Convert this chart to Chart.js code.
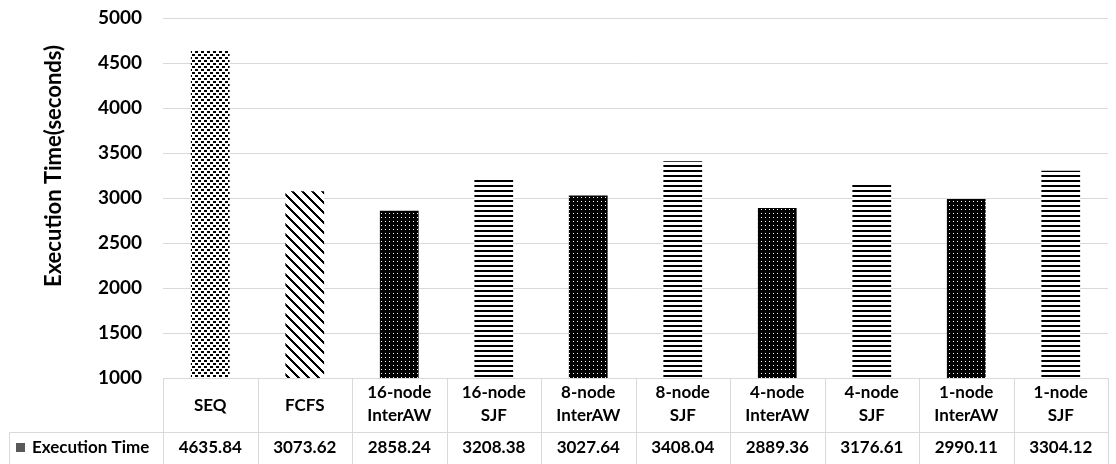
<!DOCTYPE html>
<html>
<head>
<meta charset="utf-8">
<script src="https://cdn.jsdelivr.net/npm/chart.js@4.4.1/dist/chart.umd.min.js"></script>
<style>
  html, body { margin: 0; padding: 0; background: #fff; }
  #wrap { width: 1116px; height: 464px; }
</style>
</head>
<body>
<div id="wrap"><canvas id="execChart" width="1116" height="464"></canvas></div>
<script>
// chart data
const categories = [
  ['SEQ'], ['FCFS'],
  ['16-node', 'InterAW'], ['16-node', 'SJF'],
  ['8-node', 'InterAW'], ['8-node', 'SJF'],
  ['4-node', 'InterAW'], ['4-node', 'SJF'],
  ['1-node', 'InterAW'], ['1-node', 'SJF']
];
const execTimes = [4635.84, 3073.62, 2858.24, 3208.38, 3027.64, 3408.04, 2889.36, 3176.61, 2990.11, 3304.12];
const valueLabels = ['4635.84', '3073.62', '2858.24', '3208.38', '3027.64', '3408.04', '2889.36', '3176.61', '2990.11', '3304.12'];
const seriesName = 'Execution Time';
const yTitle = 'Execution Time(seconds)';
const yMin = 1000, yMax = 5000, yStep = 500;
// which fill each bar uses
const barFills = ['sparseDots', 'diagonal', 'darkDots', 'hLines', 'darkDots', 'hLines', 'darkDots', 'hLines', 'darkDots', 'hLines'];

const FONT = 'Lato, "Open Sans", sans-serif';

// little pixel tiles for the excel-like pattern fills
function makeTile(w, h, isBlack) {
  const c = document.createElement('canvas');
  c.width = w; c.height = h;
  const cx = c.getContext('2d');
  const img = cx.createImageData(w, h);
  for (let y = 0; y < h; y++) {
    for (let x = 0; x < w; x++) {
      const v = isBlack(x, y) ? 0 : 255;
      const i = (y * w + x) * 4;
      img.data[i] = v; img.data[i + 1] = v; img.data[i + 2] = v; img.data[i + 3] = 255;
    }
  }
  cx.putImageData(img, 0, 0);
  return c;
}

const canvas = document.getElementById('execChart');
const ctx = canvas.getContext('2d');

const patterns = {
  sparseDots: ctx.createPattern(makeTile(6, 6, (x, y) =>
    (x < 3 && y < 2) || (x >= 3 && y >= 3 && y < 5)), 'repeat'),
  diagonal: ctx.createPattern(makeTile(10, 10, (x, y) => ((x - y) % 10 + 10) % 10 < 3), 'repeat'),
  darkDots: ctx.createPattern(makeTile(4, 4, (x, y) => !(x === 1 && y === 1)), 'repeat'),
  hLines: ctx.createPattern(makeTile(4, 5, (x, y) => y < 2), 'repeat')
};

// data table under the plot (category row + value row) and the axis title
const dataTable = {
  id: 'dataTable',
  afterDraw(chart) {
    const c = chart.ctx;
    const area = chart.chartArea;
    const xs = chart.scales.x;
    const n = categories.length;
    const colW = (area.right - area.left) / n;
    const headTop = area.bottom;
    const headBottom = 432.5;
    const tableBottom = 464;
    const leftEdge = 9.5;

    c.save();
    c.strokeStyle = '#d9d9d9';
    c.lineWidth = 1;
    c.beginPath();
    for (let i = 0; i <= n; i++) {
      const x = Math.round(area.left + i * colW) + 0.5;
      c.moveTo(x, headTop);
      c.lineTo(x, tableBottom);
    }
    c.moveTo(leftEdge, headBottom);
    c.lineTo(leftEdge, tableBottom);
    c.moveTo(leftEdge, headBottom);
    c.lineTo(area.right, headBottom);
    c.stroke();

    c.fillStyle = '#000';
    c.font = 'bold 17px ' + FONT;
    c.textAlign = 'center';
    c.textBaseline = 'middle';
    categories.forEach((lines, i) => {
      const cx = xs.getPixelForValue(i);
      if (lines.length === 1) {
        c.fillText(lines[0], cx, 406);
      } else {
        c.fillText(lines[0], cx, 393);
        c.fillText(lines[1], cx, 416);
      }
      c.fillText(valueLabels[i], cx, 448);
    });

    // legend key + series name
    c.fillStyle = '#595959';
    c.fillRect(16, 443, 9, 9);
    c.fillStyle = '#000';
    c.textAlign = 'left';
    c.fillText(seriesName, 32, 448);

    // y axis title
    c.translate(54, 166);
    c.rotate(-Math.PI / 2);
    c.textAlign = 'center';
    c.font = 'bold 22px ' + FONT;
    c.fillText(yTitle, 0, 0);
    c.restore();
  }
};

new Chart(canvas, {
  type: 'bar',
  data: {
    labels: categories.map(l => l.join(' ')),
    datasets: [{
      label: seriesName,
      data: execTimes,
      backgroundColor: barFills.map(f => patterns[f]),
      borderWidth: 0,
      categoryPercentage: 1,
      barPercentage: 0.41
    }]
  },
  options: {
    responsive: false,
    animation: false,
    layout: { padding: { top: 18, right: 8, bottom: 4, left: 0 } },
    plugins: {
      legend: { display: false },
      tooltip: { enabled: false }
    },
    scales: {
      x: {
        grid: { display: false },
        border: { display: true, color: '#d9d9d9' },
        ticks: { display: false },
        afterFit(scale) { scale.height = 82; }
      },
      y: {
        min: yMin,
        max: yMax,
        ticks: {
          stepSize: yStep,
          color: '#000',
          padding: 21,
          font: { family: FONT, size: 19, weight: 'bold' },
          callback: v => String(v)
        },
        grid: { color: '#d9d9d9', drawTicks: false },
        border: { display: false },
        afterFit(scale) {
          scale.width = 163;
          scale.paddingTop = 0;
          scale.paddingBottom = 0;
        }
      }
    }
  },
  plugins: [dataTable]
});
</script>
</body>
</html>
